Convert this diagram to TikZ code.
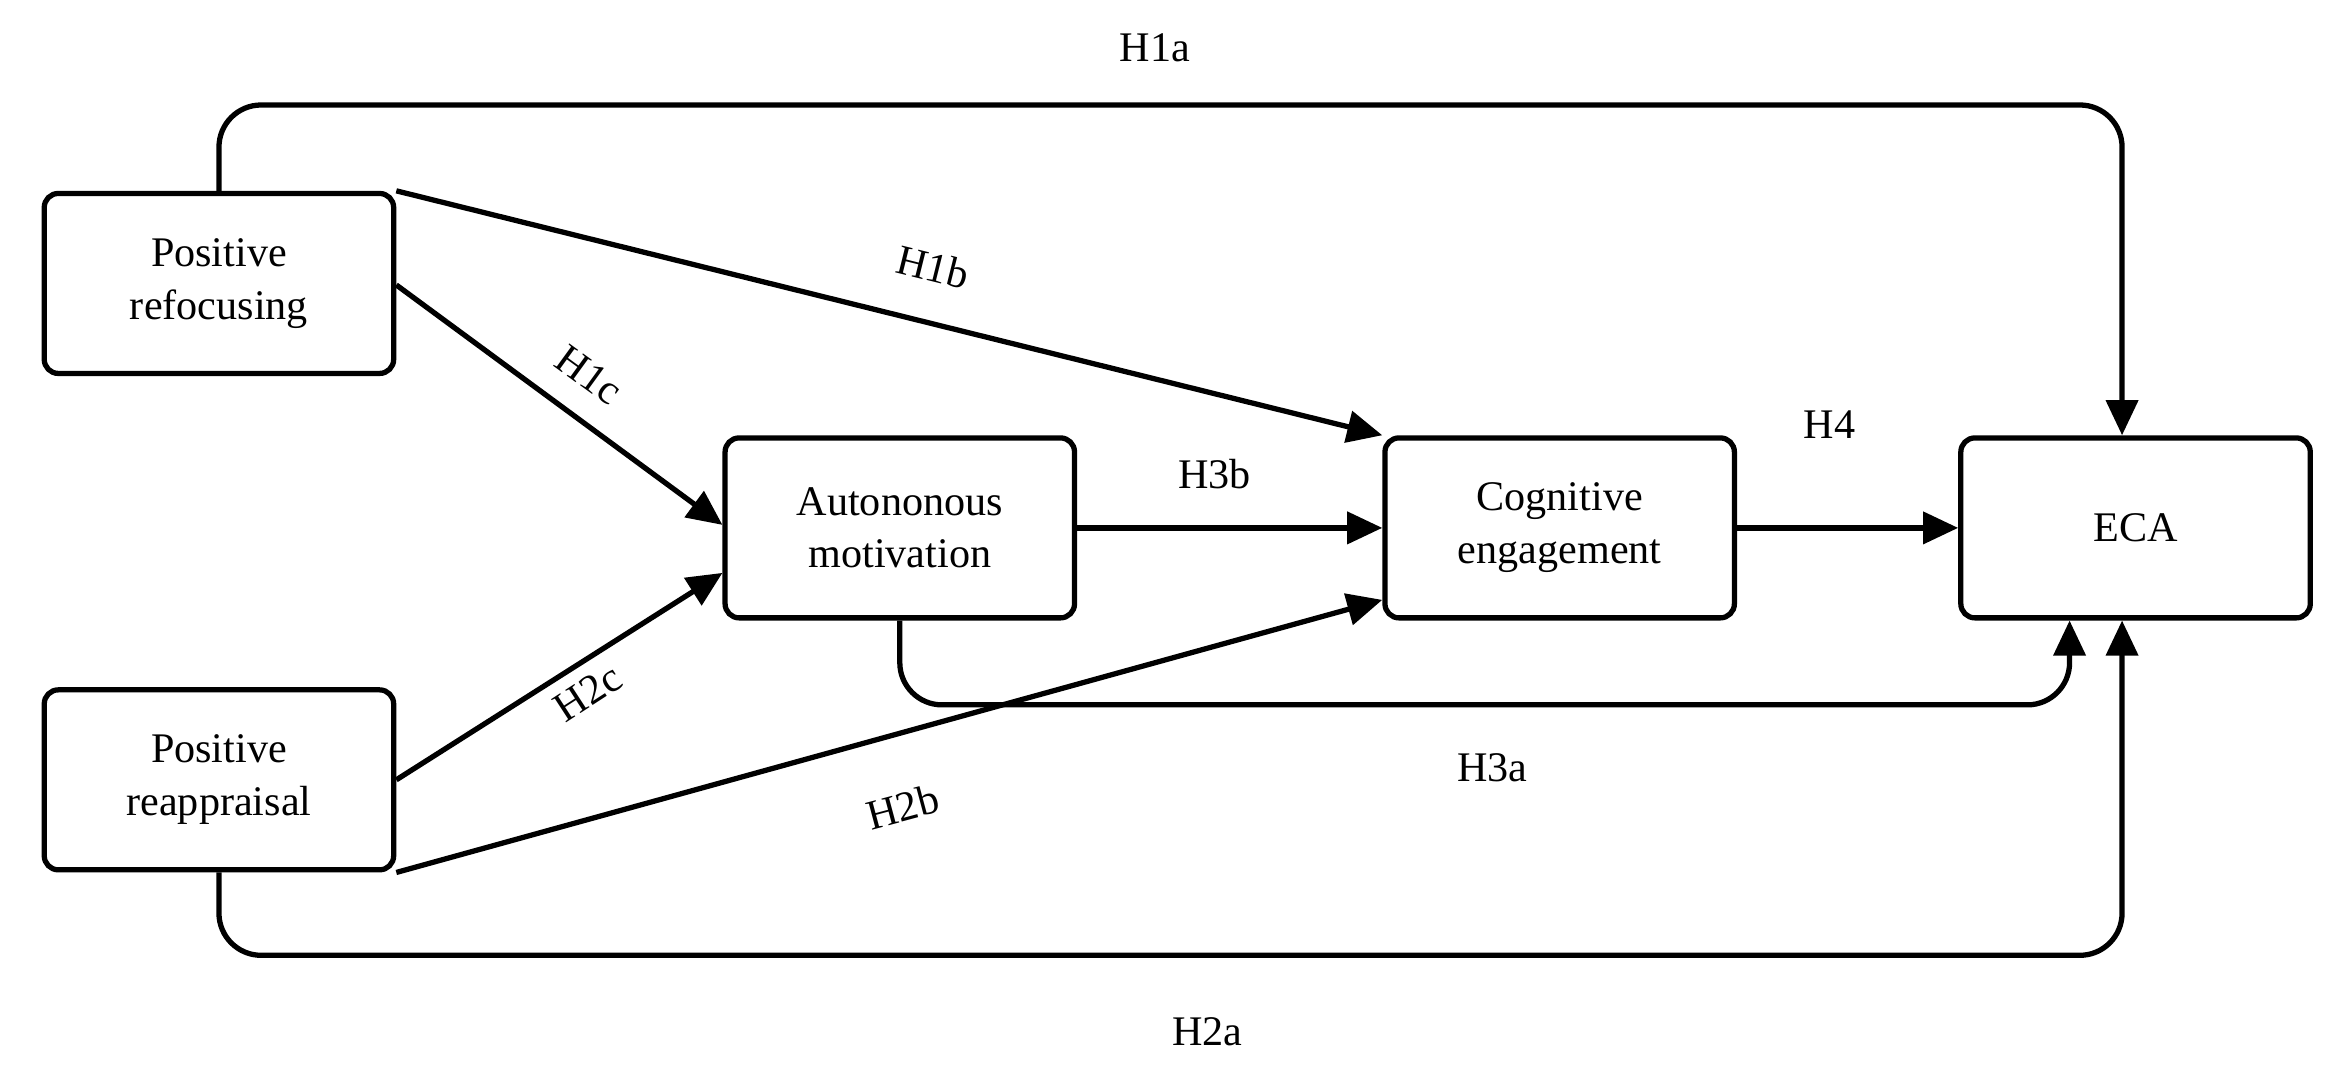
\documentclass[tikz,border=0pt]{standalone}
\usepackage{fontspec}
\setmainfont{Liberation Serif}
\usetikzlibrary{arrows.meta}
\begin{document}
\begin{tikzpicture}[x=0.03cm,y=-0.03cm,
  box/.style={draw,line width=3pt,rounded corners=8pt,minimum width=6.99cm,minimum height=3.6cm,align=center,font=\fontsize{24}{30}\selectfont},
  arr/.style={line width=3pt,-{Triangle[length=20pt,width=18pt]},rounded corners=24pt},
  lab/.style={font=\fontsize{24}{28}\selectfont}]
\useasboundingbox (0,0) rectangle (1567,722);
\node[box] (pr) at (146,189) {Positive\\refocusing};
\node[box] (pa) at (146,520) {Positive\\reappraisal};
\node[box] (am) at (600,352) {Autononous\\motivation};
\node[box] (ce) at (1040,352) {Cognitive\\engagement};
\node[box] (eca) at (1424,352) {ECA};
\draw[arr] (pr.north) -- (146,70) -- (1415,70) -- (eca.north -| 1415,0);
\draw[arr] (pr.north east) -- (ce.north west);
\draw[arr] (pr.east |- 0,190) -- (am.west |- 0,350);
\draw[arr] (am.east) -- (ce.west);
\draw[arr] (ce.east) -- (eca.west);
\draw[arr] (am.south -| 600,0) -- (600,470) -- (1380,470) -- (eca.south -| 1380,0);
\draw[arr] (pa.east |- 0,520) -- (am.west |- 0,382);
\draw[arr] (pa.south east) -- (ce.west |- 0,400);
\draw[arr] (pa.south) -- (146,637) -- (1415,637) -- (eca.south -| 1415,0);
\node[lab] (l1a) at (770,32) {H1a};
\node[lab,rotate=-14] (l1b) at (622,178) {H1b};
\node[lab,rotate=-36] (l1c) at (393,250) {H1c};
\node[lab] (l3b) at (810,316) {H3b};
\node[lab] (l4) at (1220,283) {H4};
\node[lab] (l3a) at (995,512) {H3a};
\node[lab,rotate=33] (l2c) at (392,462) {H2c};
\node[lab,rotate=15] (l2b) at (602,538) {H2b};
\node[lab] (l2a) at (805,688) {H2a};
\end{tikzpicture}
\end{document}
